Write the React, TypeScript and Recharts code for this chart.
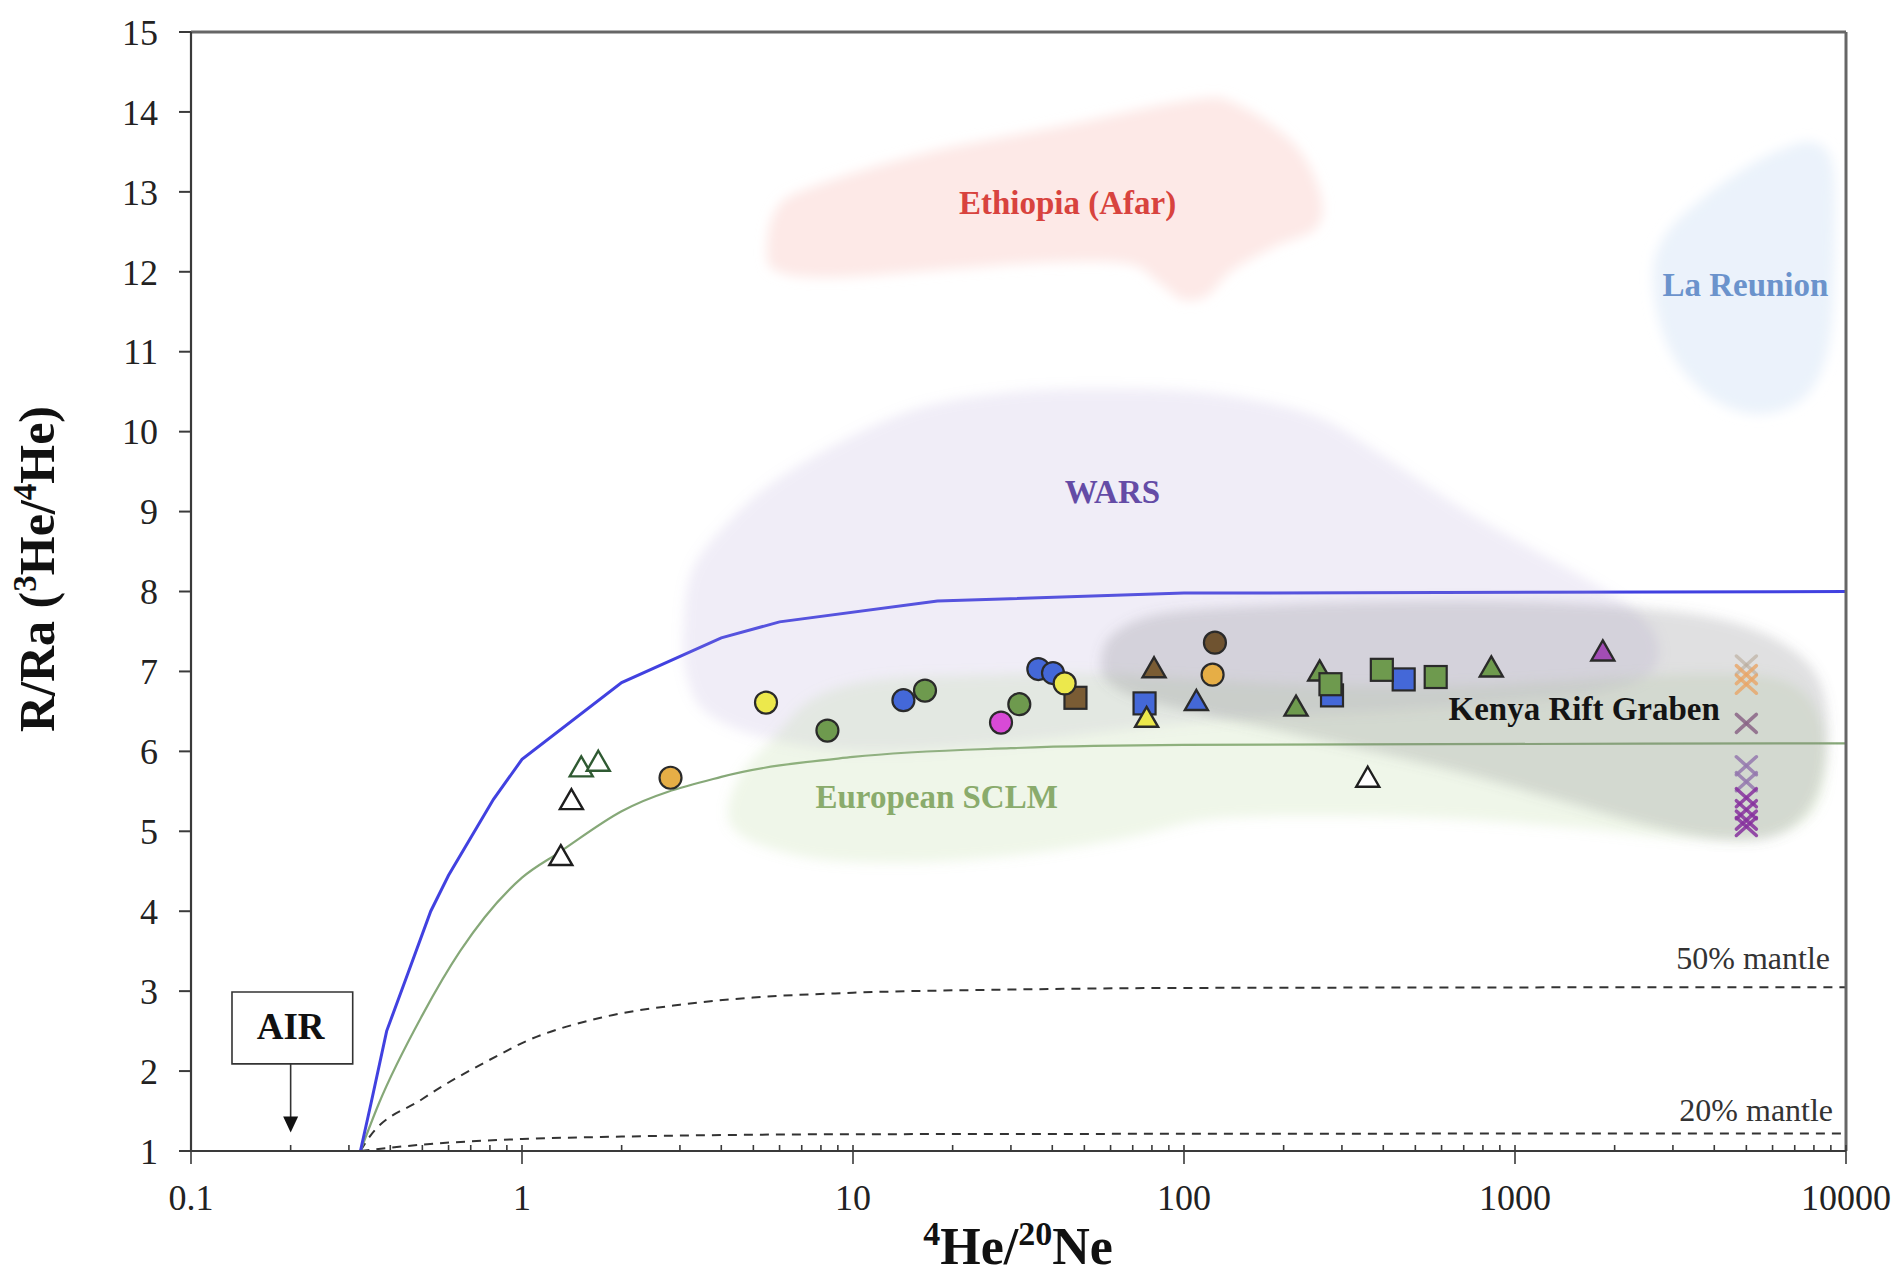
import React from 'react';
import { ComposedChart, XAxis, YAxis, Line, Scatter, ReferenceLine, ReferenceArea } from 'recharts';

const FONT = '"Liberation Serif", "Times New Roman", Times, serif';

// ---------- axes ----------
const X_MAJOR = [0.1, 1, 10, 100, 1000, 10000];
const X_MINOR = [0.2, 0.3, 0.4, 0.5, 0.6, 0.7, 0.8, 0.9, 2, 3, 4, 5, 6, 7, 8, 9, 20, 30, 40, 50, 60, 70, 80, 90, 200, 300, 400, 500, 600, 700, 800, 900, 2000, 3000, 4000, 5000, 6000, 7000, 8000, 9000];
const X_TICKS = [...X_MAJOR, ...X_MINOR].sort((a, b) => a - b);
const Y_TICKS = [1, 2, 3, 4, 5, 6, 7, 8, 9, 10, 11, 12, 13, 14, 15];

// ---------- mixing curves ----------
const mantleCurve = [
  { x: 0.325, y: 1.0 }, { x: 0.35, y: 1.6 }, { x: 0.39, y: 2.5 }, { x: 0.45, y: 3.2 }, { x: 0.53, y: 4.0 },
  { x: 0.6, y: 4.45 }, { x: 0.7, y: 4.92 }, { x: 0.82, y: 5.4 }, { x: 1, y: 5.9 }, { x: 2, y: 6.86 },
  { x: 4, y: 7.42 }, { x: 6, y: 7.62 }, { x: 18, y: 7.88 }, { x: 100, y: 7.98 }, { x: 10000, y: 8.0 },
];
const sclmCurve = [
  { x: 0.325, y: 1.0 }, { x: 0.37, y: 1.6 }, { x: 0.5, y: 2.7 }, { x: 0.65, y: 3.5 }, { x: 1, y: 4.42 },
  { x: 1.3, y: 4.74 }, { x: 2, y: 5.25 }, { x: 4, y: 5.68 }, { x: 10, y: 5.93 }, { x: 30, y: 6.04 },
  { x: 100, y: 6.08 }, { x: 10000, y: 6.1 },
];
const mantle50Curve = [
  { x: 0.325, y: 1.0 }, { x: 0.34, y: 1.13 }, { x: 0.5, y: 1.65 }, { x: 0.85, y: 2.2 }, { x: 1, y: 2.35 },
  { x: 1.74, y: 2.67 }, { x: 3, y: 2.83 }, { x: 5, y: 2.92 }, { x: 10, y: 2.98 }, { x: 30, y: 3.02 },
  { x: 100, y: 3.04 }, { x: 10000, y: 3.05 },
];
const mantle20Curve = [
  { x: 0.325, y: 1.0 }, { x: 0.5, y: 1.08 }, { x: 1, y: 1.15 }, { x: 2, y: 1.18 }, { x: 10, y: 1.21 },
  { x: 10000, y: 1.22 },
];

// ---------- field outlines ----------
const ethiopiaBlob = [
  { x: 5.5, y: 12.3 }, { x: 5.9, y: 12.8 }, { x: 7.51, y: 13.06 }, { x: 16.3, y: 13.48 }, { x: 41.2, y: 13.81 },
  { x: 105, y: 14.15 }, { x: 144, y: 14.1 }, { x: 215, y: 13.6 }, { x: 258, y: 12.98 }, { x: 251, y: 12.55 },
  { x: 187, y: 12.31 }, { x: 139, y: 12.01 }, { x: 117.5, y: 11.7 }, { x: 99.1, y: 11.65 }, { x: 83.8, y: 11.87 },
  { x: 67.9, y: 12.1 }, { x: 40, y: 12.12 }, { x: 22.3, y: 12.05 }, { x: 8.77, y: 11.93 }, { x: 5.88, y: 12.01 },
];
const reunionBlob = [
  { x: 7960, y: 13.62 }, { x: 9120, y: 13.34 }, { x: 9270, y: 12.36 }, { x: 9040, y: 11.3 }, { x: 8300, y: 10.69 },
  { x: 7015, y: 10.34 }, { x: 5360, y: 10.22 }, { x: 4056, y: 10.38 }, { x: 3150, y: 10.81 }, { x: 2730, y: 11.37 },
  { x: 2620, y: 12.05 }, { x: 2900, y: 12.51 }, { x: 3610, y: 12.89 }, { x: 5010, y: 13.31 }, { x: 6460, y: 13.54 },
];
const warsBlob = [
  { x: 3.07, y: 7.5 }, { x: 3.26, y: 8.26 }, { x: 4.19, y: 8.87 }, { x: 5.88, y: 9.4 }, { x: 9.75, y: 9.93 },
  { x: 16.2, y: 10.31 }, { x: 29.2, y: 10.49 }, { x: 52.7, y: 10.54 }, { x: 103, y: 10.51 }, { x: 172, y: 10.38 },
  { x: 262, y: 10.16 }, { x: 399, y: 9.7 }, { x: 662, y: 9.09 }, { x: 1097, y: 8.56 }, { x: 1671, y: 8.14 },
  { x: 2346, y: 7.73 }, { x: 2705, y: 7.35 }, { x: 2550, y: 6.97 }, { x: 1820, y: 6.74 }, { x: 1009, y: 6.62 },
  { x: 434, y: 6.51 }, { x: 187, y: 6.44 }, { x: 80.4, y: 6.31 }, { x: 34.5, y: 6.13 }, { x: 14.9, y: 6.01 },
  { x: 8.24, y: 6.03 }, { x: 4.97, y: 6.21 }, { x: 3.54, y: 6.51 }, { x: 3.13, y: 6.97 },
];
const sclmBlob = [
  { x: 4.19, y: 5.3 }, { x: 4.64, y: 5.75 }, { x: 5.88, y: 6.21 }, { x: 7.57, y: 6.66 }, { x: 11.5, y: 6.89 },
  { x: 22.7, y: 6.95 }, { x: 52.7, y: 6.97 }, { x: 122, y: 6.89 }, { x: 285, y: 6.82 }, { x: 662, y: 6.82 },
  { x: 1538, y: 6.89 }, { x: 3573, y: 6.97 }, { x: 6460, y: 6.89 }, { x: 8300, y: 6.44 }, { x: 8670, y: 5.68 },
  { x: 7640, y: 5.15 }, { x: 5450, y: 4.92 }, { x: 3020, y: 4.92 }, { x: 1538, y: 5.04 }, { x: 662, y: 5.15 },
  { x: 285, y: 5.19 }, { x: 122, y: 5.15 }, { x: 67.9, y: 4.92 }, { x: 34.5, y: 4.72 }, { x: 16.2, y: 4.61 },
  { x: 8.24, y: 4.64 }, { x: 5.41, y: 4.81 }, { x: 4.38, y: 5.02 },
];
const kenyaBlob = [
  { x: 56.3, y: 7.19 }, { x: 62.4, y: 7.5 }, { x: 87.4, y: 7.73 }, { x: 187, y: 7.83 }, { x: 434, y: 7.88 },
  { x: 1009, y: 7.88 }, { x: 2346, y: 7.8 }, { x: 4230, y: 7.65 }, { x: 6460, y: 7.35 }, { x: 8300, y: 6.89 },
  { x: 8820, y: 6.13 }, { x: 7960, y: 5.37 }, { x: 6180, y: 4.95 }, { x: 4230, y: 4.89 }, { x: 2550, y: 5.07 },
  { x: 1413, y: 5.37 }, { x: 662, y: 5.75 }, { x: 285, y: 6.1 }, { x: 122, y: 6.44 }, { x: 73.8, y: 6.66 },
  { x: 58.3, y: 6.89 },
];

// ---------- samples ----------
const yellowCircles = [{ x: 5.46, y: 6.61 }, { x: 43.6, y: 6.85 }];
const orangeCircles = [{ x: 2.81, y: 5.67 }, { x: 122, y: 6.96 }];
const greenCircles = [{ x: 8.37, y: 6.26 }, { x: 16.5, y: 6.76 }, { x: 31.8, y: 6.59 }];
const blueCircles = [{ x: 14.2, y: 6.64 }, { x: 36.3, y: 7.03 }, { x: 40.2, y: 6.98 }];
const magentaCircles = [{ x: 28.0, y: 6.36 }];
const brownCircles = [{ x: 124, y: 7.36 }];
const brownSquares = [{ x: 47.0, y: 6.67 }];
const blueSquares = [{ x: 76, y: 6.6 }, { x: 280, y: 6.7 }, { x: 461, y: 6.9 }];
const greenSquares = [{ x: 277, y: 6.84 }, { x: 396, y: 7.02 }, { x: 576, y: 6.93 }];
const brownTriangles = [{ x: 81.2, y: 7.04 }];
const yellowTriangles = [{ x: 77.1, y: 6.42 }];
const blueTriangles = [{ x: 109, y: 6.63 }];
const greenTriangles = [{ x: 218, y: 6.56 }, { x: 257, y: 7.0 }, { x: 848, y: 7.05 }];
const purpleTriangles = [{ x: 1842, y: 7.25 }];
const openTriangles = [{ x: 1.31, y: 4.69 }, { x: 1.41, y: 5.39 }, { x: 359, y: 5.67 }];
const openGreenTriangles = [{ x: 1.51, y: 5.8 }, { x: 1.7, y: 5.87 }];
const faintCrosses = [{ x: 5000, y: 7.08 }];
const orangeCrosses = [{ x: 5000, y: 6.96 }, { x: 5000, y: 6.84 }];
const mauveCrosses = [{ x: 5000, y: 6.35 }];
const lightPurpleCrosses = [{ x: 5000, y: 5.82 }, { x: 5000, y: 5.62 }];
const purpleCrosses = [{ x: 5000, y: 5.42 }, { x: 5000, y: 5.27 }, { x: 5000, y: 5.14 }, { x: 5000, y: 5.06 }];

// ---------- annotations ----------
const regionLabels = [
  { x: 44.5, y: 12.86, text: 'Ethiopia (Afar)' },
  { x: 4966, y: 11.84, text: 'La Reunion' },
  { x: 60.8, y: 9.24, text: 'WARS' },
  { x: 1618, y: 6.53, text: 'Kenya Rift Graben' },
  { x: 17.9, y: 5.43, text: 'European SCLM' },
];
const mantleLabels = [
  { x: 8950, y: 3.28, text: '50% mantle' },
  { x: 9140, y: 1.375, text: '20% mantle' },
];
const airLabel = [{ x: 0.2, y: 2.56, text: 'AIR' }];
const airArrowHead = [{ x: 0.2, y: 1.23 }];

const REGION_COLORS: Record<string, string> = {
  'Ethiopia (Afar)': '#d8433e',
  'La Reunion': '#6b93cc',
  'WARS': '#644ba6',
  'Kenya Rift Graben': '#141414',
  'European SCLM': '#8aab6c',
};

// ---------- helpers ----------
function closedPath(pts: { x: number; y: number }[]) {
  const n = pts.length;
  let d = `M${pts[0].x},${pts[0].y}`;
  for (let i = 0; i < n; i++) {
    const p0 = pts[(i - 1 + n) % n];
    const p1 = pts[i];
    const p2 = pts[(i + 1) % n];
    const p3 = pts[(i + 2) % n];
    const c1x = p1.x + (p2.x - p0.x) / 6;
    const c1y = p1.y + (p2.y - p0.y) / 6;
    const c2x = p2.x - (p3.x - p1.x) / 6;
    const c2y = p2.y - (p3.y - p1.y) / 6;
    d += ` C${c1x},${c1y} ${c2x},${c2y} ${p2.x},${p2.y}`;
  }
  return d + ' Z';
}

const blob = (fill: string, opacity: number) => (props: any) => {
  const pts = props.points || [];
  if (pts.length < 3) return <g />;
  return <path d={closedPath(pts)} fill={fill} fillOpacity={opacity} stroke="none" filter="url(#softBlob)" />;
};

const none = () => <g />;
const STROKE = '#2a2a2a';

const circleShape = (fill: string) => (p: any) => (
  <circle cx={p.cx} cy={p.cy} r={11} fill={fill} stroke={STROKE} strokeWidth={2.2} />
);
const squareShape = (fill: string) => (p: any) => (
  <rect x={p.cx - 11} y={p.cy - 11} width={22} height={22} fill={fill} stroke={STROKE} strokeWidth={2.2} />
);
const triangleShape = (fill: string, stroke: string = STROKE) => (p: any) => (
  <path
    d={`M${p.cx},${p.cy - 11} L${p.cx + 11.5},${p.cy + 9} L${p.cx - 11.5},${p.cy + 9} Z`}
    fill={fill}
    stroke={stroke}
    strokeWidth={2.4}
    strokeLinejoin="miter"
  />
);
const crossShape = (color: string, opacity: number) => (p: any) => (
  <g stroke={color} strokeWidth={3.5} strokeOpacity={opacity} strokeLinecap="round">
    <line x1={p.cx - 10} y1={p.cy - 9} x2={p.cx + 10} y2={p.cy + 9} />
    <line x1={p.cx - 10} y1={p.cy + 9} x2={p.cx + 10} y2={p.cy - 9} />
  </g>
);
const regionLabelShape = (p: any) => (
  <text
    x={p.cx}
    y={p.cy}
    textAnchor="middle"
    dominantBaseline="central"
    fontFamily={FONT}
    fontWeight="bold"
    fontSize={33}
    fill={REGION_COLORS[p.payload.text]}
  >
    {p.payload.text}
  </text>
);
const mantleLabelShape = (p: any) => (
  <text x={p.cx} y={p.cy} textAnchor="end" fontFamily={FONT} fontSize={32} fill="#333">
    {p.payload.text}
  </text>
);
const airLabelShape = (p: any) => (
  <text x={p.cx} y={p.cy} textAnchor="middle" dominantBaseline="central" fontFamily={FONT} fontWeight="bold" fontSize={37} fill="#111">
    {p.payload.text}
  </text>
);
const arrowHeadShape = (p: any) => (
  <path d={`M${p.cx - 7.5},${p.cy - 16} L${p.cx + 7.5},${p.cy - 16} L${p.cx},${p.cy} Z`} fill="#111" />
);

const XTick = (props: any) => {
  const { x, y, payload } = props;
  const v = payload.value;
  const major = X_MAJOR.indexOf(v) >= 0;
  return (
    <g>
      <line x1={x} x2={x} y1={y - 6} y2={major ? y + 13 : y} stroke="#3a3a3a" strokeWidth={1.6} />
      {major && (
        <text x={x} y={y + 59} textAnchor="middle" fontSize={36} fontFamily={FONT} fill="#222">
          {String(v)}
        </text>
      )}
    </g>
  );
};

const XTitle = () => (
  <text x={1018} y={1264} textAnchor="middle" fontFamily={FONT} fontWeight="bold" fontSize={52} fill="#111">
    <tspan fontSize={34} dy={-19}>4</tspan>
    <tspan dy={19}>He/</tspan>
    <tspan fontSize={34} dy={-19}>20</tspan>
    <tspan dy={19}>Ne</tspan>
  </text>
);

const YTitle = () => (
  <text transform="translate(54,569) rotate(-90)" textAnchor="middle" fontFamily={FONT} fontWeight="bold" fontSize={50} fill="#111">
    <tspan>R/Ra (</tspan>
    <tspan fontSize={33} dy={-18}>3</tspan>
    <tspan dy={18}>He/</tspan>
    <tspan fontSize={33} dy={-18}>4</tspan>
    <tspan dy={18}>He)</tspan>
  </text>
);

export default function App() {
  return (
    <div style={{ position: 'absolute', left: 0, top: 0, width: 1902, height: 1281, background: '#fff' }}>
      <svg width={0} height={0} style={{ position: 'absolute' }}>
        <defs>
          <filter id="softBlob" x="-20%" y="-20%" width="140%" height="140%">
            <feGaussianBlur stdDeviation="6" />
          </filter>
        </defs>
      </svg>
      <ComposedChart width={1902} height={1281} margin={{ top: 32, right: 56, bottom: 70, left: 91 }}>
        <XAxis
          dataKey="x"
          type="number"
          scale="log"
          domain={[0.1, 10000]}
          allowDataOverflow
          ticks={X_TICKS}
          interval={0}
          tickSize={0}
          tickMargin={0}
          tickLine={false}
          tick={<XTick />}
          axisLine={{ stroke: '#3a3a3a', strokeWidth: 2.2 }}
          height={60}
          label={<XTitle />}
        />
        <YAxis
          dataKey="y"
          type="number"
          domain={[1, 15]}
          allowDataOverflow
          ticks={Y_TICKS}
          interval={0}
          width={100}
          tickSize={12}
          tickMargin={21}
          tickLine={{ stroke: '#3a3a3a', strokeWidth: 2 }}
          axisLine={{ stroke: '#3a3a3a', strokeWidth: 2.2 }}
          tick={{ fontSize: 36, fill: '#222', fontFamily: FONT }}
          label={<YTitle />}
        />

        {/* fields */}
        <Scatter data={reunionBlob} shape={none} line={blob('#e8f0fa', 0.85)} isAnimationActive={false} />
        <Scatter data={ethiopiaBlob} shape={none} line={blob('#fcdedb', 0.68)} isAnimationActive={false} />
        <Scatter data={warsBlob} shape={none} line={blob('#b09ed6', 0.19)} isAnimationActive={false} />
        <Scatter data={sclmBlob} shape={none} line={blob('#aed090', 0.2)} isAnimationActive={false} />
        <Scatter data={kenyaBlob} shape={none} line={blob('#6c6c72', 0.21)} isAnimationActive={false} />

        {/* mixing curves */}
        <Line data={mantle20Curve} dataKey="y" type="monotone" stroke="#333" strokeWidth={2} strokeDasharray="9 7" dot={false} isAnimationActive={false} />
        <Line data={mantle50Curve} dataKey="y" type="monotone" stroke="#333" strokeWidth={2} strokeDasharray="9 7" dot={false} isAnimationActive={false} />
        <Line data={sclmCurve} dataKey="y" type="monotone" stroke="#86a878" strokeWidth={2.2} dot={false} isAnimationActive={false} />
        <Line data={mantleCurve} dataKey="y" type="linear" stroke="#4141e0" strokeWidth={3} dot={false} isAnimationActive={false} />

        {/* frame */}
        <ReferenceLine y={15} stroke="#666" strokeWidth={3} />
        <ReferenceLine x={10000} stroke="#666" strokeWidth={3} />

        {/* AIR box */}
        <ReferenceArea x1={0.133} x2={0.308} y1={2.09} y2={2.99} fill="#fff" fillOpacity={1} stroke="#333" strokeWidth={1.6} />
        <ReferenceLine segment={[{ x: 0.2, y: 2.09 }, { x: 0.2, y: 1.35 }]} stroke="#333" strokeWidth={1.6} />
        <Scatter data={airArrowHead} shape={arrowHeadShape} isAnimationActive={false} />
        <Scatter data={airLabel} shape={airLabelShape} isAnimationActive={false} />

        {/* samples */}
        <Scatter data={greenTriangles} shape={triangleShape('#6e9a4e')} isAnimationActive={false} />
        <Scatter data={blueSquares} shape={squareShape('#4468d8')} isAnimationActive={false} />
        <Scatter data={greenSquares} shape={squareShape('#6e9a4e')} isAnimationActive={false} />
        <Scatter data={brownSquares} shape={squareShape('#7a5c34')} isAnimationActive={false} />
        <Scatter data={blueCircles} shape={circleShape('#4468d8')} isAnimationActive={false} />
        <Scatter data={magentaCircles} shape={circleShape('#d84ad6')} isAnimationActive={false} />
        <Scatter data={greenCircles} shape={circleShape('#6e9a4e')} isAnimationActive={false} />
        <Scatter data={yellowCircles} shape={circleShape('#ece84c')} isAnimationActive={false} />
        <Scatter data={orangeCircles} shape={circleShape('#e6ae46')} isAnimationActive={false} />
        <Scatter data={brownCircles} shape={circleShape('#6f5330')} isAnimationActive={false} />
        <Scatter data={brownTriangles} shape={triangleShape('#7a5c34')} isAnimationActive={false} />
        <Scatter data={blueTriangles} shape={triangleShape('#4468d8')} isAnimationActive={false} />
        <Scatter data={purpleTriangles} shape={triangleShape('#a24db5')} isAnimationActive={false} />
        <Scatter data={yellowTriangles} shape={triangleShape('#ece84c')} isAnimationActive={false} />
        <Scatter data={openTriangles} shape={triangleShape('#ffffff', '#1e1e1e')} isAnimationActive={false} />
        <Scatter data={openGreenTriangles} shape={triangleShape('#ffffff', '#2f5a32')} isAnimationActive={false} />
        <Scatter data={faintCrosses} shape={crossShape('#b8a898', 0.6)} isAnimationActive={false} />
        <Scatter data={orangeCrosses} shape={crossShape('#e9a566', 0.8)} isAnimationActive={false} />
        <Scatter data={mauveCrosses} shape={crossShape('#8a6486', 0.85)} isAnimationActive={false} />
        <Scatter data={lightPurpleCrosses} shape={crossShape('#9478ae', 0.85)} isAnimationActive={false} />
        <Scatter data={purpleCrosses} shape={crossShape('#86309e', 0.85)} isAnimationActive={false} />

        {/* labels */}
        <Scatter data={regionLabels} shape={regionLabelShape} isAnimationActive={false} />
        <Scatter data={mantleLabels} shape={mantleLabelShape} isAnimationActive={false} />
      </ComposedChart>
    </div>
  );
}
